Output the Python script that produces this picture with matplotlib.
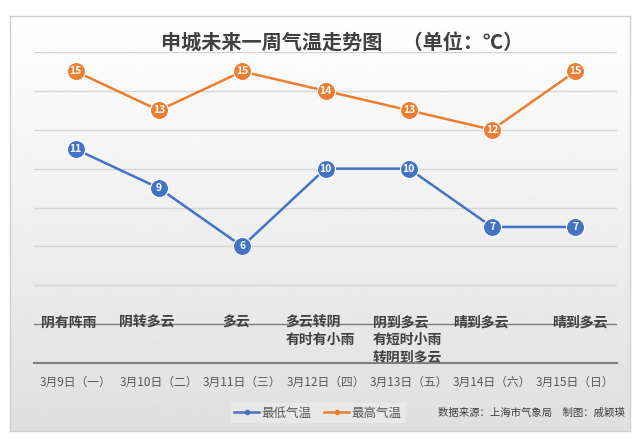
import numpy as np
import matplotlib
matplotlib.use("Agg")
import matplotlib.pyplot as plt
from matplotlib.patches import Rectangle
from matplotlib.lines import Line2D

plt.rcParams['font.family'] = ['Noto Sans CJK SC', 'DejaVu Sans']

# data
dates = ["3月9日（一）", "3月10日（二）", "3月11日（三）", "3月12日（四）",
         "3月13日（五）", "3月14日（六）", "3月15日（日）"]
weather = ["阴有阵雨", "阴转多云", "多云", "多云转阴\n有时有小雨",
           "阴到多云\n有短时小雨\n转阴到多云", "晴到多云", "晴到多云"]
t_low = [11, 9, 6, 10, 10, 7, 7]
t_high = [15, 13, 15, 14, 13, 12, 15]

blue = "#4472C4"
orange = "#ED7D31"
# left edge of each weather text relative to its category (layout only)
text_shift = [-0.41, -0.48, -0.24, -0.48, -0.43, -0.47, -0.28]

fig = plt.figure(figsize=(6.41, 4.43), dpi=100, facecolor="white")

# grey gradient background inside a thin frame
W, H = 641, 443
fl, fr, ft, fb = 10, 630, 16, 431
bg = fig.add_axes([fl / W, 1 - fb / H, (fr - fl) / W, (fb - ft) / H])
grad = np.linspace(1.0, 0.875, 256).reshape(-1, 1)
bg.imshow(grad, aspect="auto", cmap="gray", vmin=0, vmax=1,
          extent=[0, 1, 0, 1], origin="upper")
bg.set_xlim(0, 1)
bg.set_ylim(0, 1)
bg.set_xticks([])
bg.set_yticks([])
for s in bg.spines.values():
    s.set_color("#cfcfcf")
    s.set_linewidth(1.0)

ax = fig.add_axes([34 / W, 1 - 363 / H, (617 - 34) / W, (363 - 52) / H])
ax.set_facecolor("none")
x = np.arange(len(dates))

ax.set_xlim(-0.5, len(dates) - 0.5)
ax.set_ylim(0, 16)
ax.set_yticks(np.arange(2, 17, 2))
ax.yaxis.grid(True, color="#d5d5d5", linewidth=1.0)
ax.set_axisbelow(True)
ax.tick_params(axis="y", left=False, labelleft=False)
ax.set_xticks(x)
ax.set_xticklabels(dates, fontsize=8.5, color="#595959")
ax.tick_params(axis="x", length=0, pad=9)
for side in ["top", "right", "left"]:
    ax.spines[side].set_visible(False)
ax.spines["bottom"].set_color("#7f7f7f")
ax.spines["bottom"].set_linewidth(1.5)
ax.axhline(2, color="#7f7f7f", linewidth=1.0, zorder=1)

ax.plot(x, t_low, color=blue, linewidth=1.8, marker="o", markersize=13,
        markeredgecolor="white", markeredgewidth=0.8, zorder=3)
ax.plot(x, t_high, color=orange, linewidth=1.8, marker="o", markersize=13,
        markeredgecolor="white", markeredgewidth=0.8, zorder=3)
for xi, lo, hi in zip(x, t_low, t_high):
    ax.text(xi, lo, str(lo), ha="center", va="center", color="white",
            fontsize=7.5, fontweight="bold", zorder=4)
    ax.text(xi, hi, str(hi), ha="center", va="center", color="white",
            fontsize=7.5, fontweight="bold", zorder=4)

for xi, txt, dx in zip(x, weather, text_shift):
    ax.text(xi + dx, 2.42, txt, ha="left", va="top", fontsize=10,
            fontweight="bold", color="#404040", linespacing=1.3, zorder=2)

fig.text(342 / W, 1 - 42 / H, "申城未来一周气温走势图　（单位：℃）",
         ha="center", va="center", fontsize=14.5, fontweight="bold",
         color="#404040")

handles = [Line2D([0], [0], color=blue, linewidth=1.8, marker="o", markersize=3),
           Line2D([0], [0], color=orange, linewidth=1.8, marker="o", markersize=3)]
fig.legend(handles, ["最低气温", "最高气温"], loc="center",
           bbox_to_anchor=(318 / W, 1 - 413 / H), ncol=2, frameon=True,
           facecolor="#ebebeb", edgecolor="none", fancybox=False,
           fontsize=9, labelcolor="#595959", handlelength=2.0,
           handletextpad=0.2, columnspacing=1.0, borderpad=0.3)

fig.text(625 / W, 1 - 413 / H, "数据来源：上海市气象局　制图：戚颖瑛",
         ha="right", va="center", fontsize=7.5, color="#404040")

fig.savefig("out.png", dpi=100, facecolor="white")
